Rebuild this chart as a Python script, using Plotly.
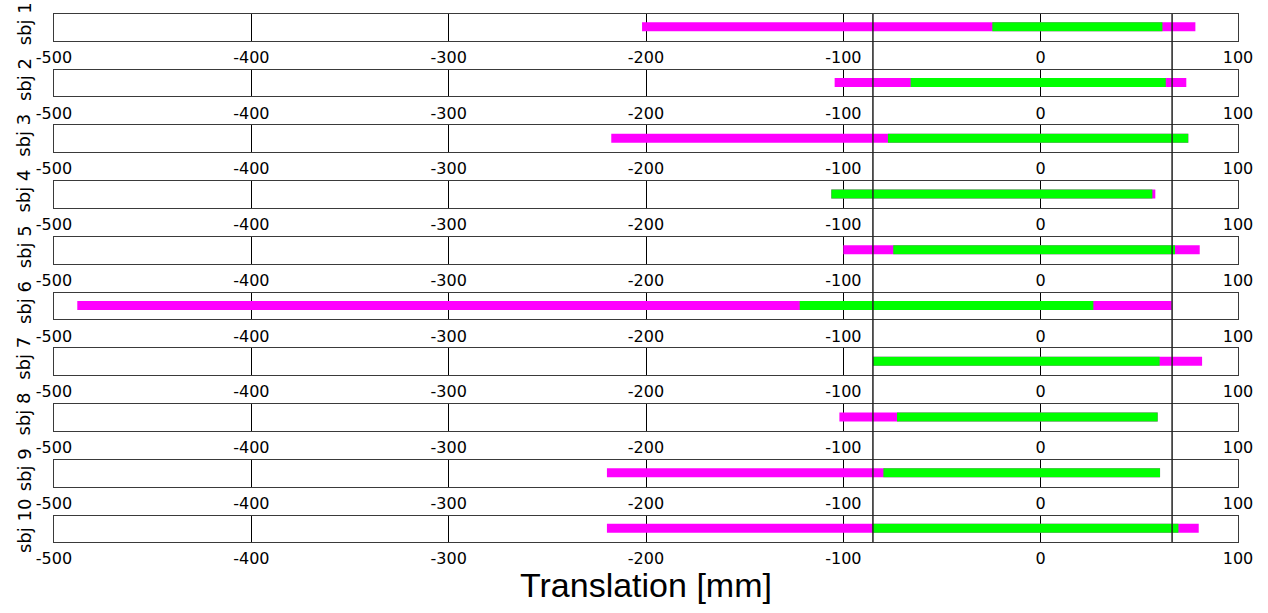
import plotly.graph_objects as go

# ---- data ----
subjects = ["sbj 1", "sbj 2", "sbj 3", "sbj 4", "sbj 5",
            "sbj 6", "sbj 7", "sbj 8", "sbj 9", "sbj 10"]
full_lo = [-202.0, -104.4, -217.6, -106.1, -100.0, -488.2, -85.0, -102.0, -219.8, -219.8]
full_hi = [78.4, 73.8, 74.8, 58.1, 80.6, 66.4, 81.8, 59.3, 60.5, 80.1]
green_lo = [-24.5, -65.9, -77.4, -106.1, -74.7, -122.1, -85.0, -72.8, -79.7, -85.3]
green_hi = [61.7, 63.4, 74.8, 56.6, 68.1, 26.7, 60.3, 59.3, 60.5, 69.8]
ref_lines = [-85.0, 66.6]
tick_vals = [-500, -400, -300, -200, -100, 0, 100]
tick_text = ["-500", "-400", "-300", "-200", "-100", "0", "100"]
x_range = [-500, 100]
x_title = "Translation [mm]"

# ---- layout geometry (pixels) ----
W, H = 1268, 613
ML, MR, MT, MB = 54, 30, 14, 71
plot_h = H - MT - MB
pitch = 55.74
panel_h = 26.7
bottom_px = H - MB

MAGENTA = "#FF00FF"
GREEN = "#00FF00"
BORDER = "#3a3a3a"
TICK_FONT = dict(family="DejaVu Sans", size=16, color="black")
YLAB_FONT = dict(family="DejaVu Sans", size=18, color="black")

fig = go.Figure()
layout = dict(
    width=W, height=H,
    margin=dict(l=ML, r=MR, t=MT, b=MB, autoexpand=False),
    paper_bgcolor="white", plot_bgcolor="white",
    showlegend=False,
    shapes=[], annotations=[],
)

def yfrac(px):
    return (bottom_px - px) / plot_h

def clamp(v):
    return min(1.0, max(0.0, v))

n = len(subjects)
for i in range(n):
    k = "" if i == 0 else str(i + 1)
    top = MT + pitch * i
    bot = top + panel_h
    xa = "x" + k
    ya = "y" + k
    fig.add_trace(go.Scatter(x=[full_lo[i], full_hi[i]], y=[0, 0], mode="lines",
                             line=dict(color=MAGENTA, width=9),
                             xaxis=xa, yaxis=ya, hoverinfo="skip"))
    fig.add_trace(go.Scatter(x=[green_lo[i], green_hi[i]], y=[0, 0], mode="lines",
                             line=dict(color=GREEN, width=9),
                             xaxis=xa, yaxis=ya, hoverinfo="skip"))
    layout["xaxis" + k] = dict(
        domain=[0, 1], anchor=ya, range=x_range,
        tickvals=tick_vals, ticktext=tick_text, ticks="",
        tickfont=TICK_FONT, ticklabelstandoff=2,
        showgrid=True, gridcolor="black", gridwidth=1,
        zeroline=True, zerolinecolor="black", zerolinewidth=1,
        showline=True, linecolor=BORDER, linewidth=1, mirror=True,
        fixedrange=True,
    )
    layout["yaxis" + k] = dict(
        domain=[clamp(yfrac(bot)), clamp(yfrac(top))], anchor=xa, range=[-1.1, 1],
        showticklabels=False, ticks="", showgrid=False, zeroline=False,
        showline=True, linecolor=BORDER, linewidth=1, mirror=True,
        fixedrange=True,
    )
    layout["annotations"].append(dict(
        text=subjects[i], textangle=-90, showarrow=False,
        xref="paper", yref="paper",
        x=(24 - ML) / (W - ML - MR), y=yfrac((top + bot) / 2 - 3),
        xanchor="center", yanchor="middle",
        font=YLAB_FONT,
    ))

for v in ref_lines:
    layout["shapes"].append(dict(
        type="line", xref="x", yref="paper", x0=v, x1=v, y0=0, y1=1,
        line=dict(color="#222222", width=1.5), layer="above",
    ))

layout["annotations"].append(dict(
    text=x_title, showarrow=False, xref="paper", yref="paper",
    x=0.5, y=yfrac(585), xanchor="center", yanchor="middle",
    font=dict(family="Liberation Sans", size=34, color="black"),
))

fig.update_layout(**layout)
fig.write_html("out.html")
